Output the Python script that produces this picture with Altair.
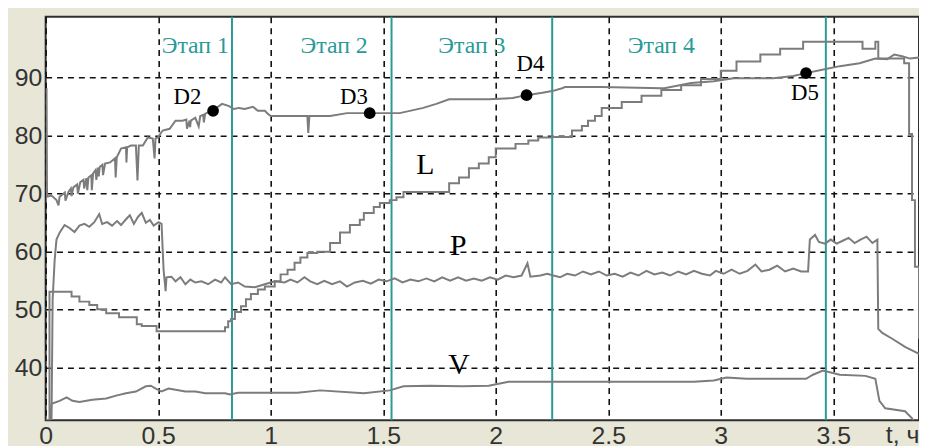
import altair as alt
import pandas as pd

# ---------------- data (time in hours, value in %) ----------------
x_ticks = [0, 0.5, 1, 1.5, 2, 2.5, 3, 3.5]
y_ticks = [40, 50, 60, 70, 80, 90]

d_t = [0.000, 0.004, 0.006, 0.026, 0.048, 0.057, 0.062, 0.070, 0.085, 0.088, 0.101, 0.112, 0.115,
       0.123, 0.140, 0.143, 0.154, 0.168, 0.171, 0.181, 0.185, 0.190, 0.203, 0.205, 0.211,
       0.222, 0.225, 0.233, 0.236, 0.240, 0.252, 0.255, 0.264, 0.286, 0.308, 0.311, 0.316,
       0.335, 0.357, 0.359, 0.362, 0.379, 0.401, 0.408, 0.414, 0.432, 0.454, 0.476, 0.484,
       0.488, 0.498, 0.520, 0.551, 0.577, 0.608, 0.625, 0.628, 0.639, 0.642, 0.645, 0.665,
       0.680, 0.687, 0.700, 0.703, 0.709, 0.740, 0.784, 0.815, 0.837, 0.859, 0.885, 0.921,
       0.943, 0.974, 0.987, 1.000, 1.163, 1.167, 1.172, 1.264, 1.339, 1.471, 1.573, 1.678,
       1.736, 1.793, 1.969, 2.075, 2.137, 2.207, 2.251, 2.295, 2.308, 2.471, 2.736, 2.749,
       2.868, 2.969, 3.057, 3.233, 3.322, 3.379, 3.467, 3.529, 3.617, 3.687, 3.740, 3.771,
       3.806, 3.841, 3.881]
d_v = [88.0, 88.0, 69.5, 69.7, 68.9, 68.0, 69.5, 69.7, 70.2, 68.8, 70.3, 70.9, 69.6,
       71.1, 71.6, 70.0, 72.0, 72.4, 70.9, 72.7, 70.6, 72.8, 73.2, 70.6, 73.5,
       74.1, 72.4, 74.5, 73.0, 74.6, 75.0, 73.2, 75.2, 75.4, 76.1, 72.8, 76.3,
       77.8, 78.0, 75.4, 78.0, 78.3, 78.3, 72.3, 78.3, 78.3, 79.7, 79.5, 76.1,
       79.5, 79.7, 80.9, 81.2, 82.6, 82.6, 82.8, 81.2, 82.6, 81.5, 82.6, 83.1,
       81.6, 83.4, 83.6, 82.3, 83.8, 84.3, 85.5, 85.1, 84.6, 84.8, 84.6, 85.0,
       84.3, 84.3, 83.8, 83.4, 83.4, 80.5, 83.4, 83.4, 83.9, 83.9, 83.9, 84.8,
       85.5, 86.3, 86.3, 86.5, 87.0, 87.4, 87.7, 88.2, 88.4, 88.4, 88.2, 88.2,
       89.1, 89.4, 89.9, 89.9, 90.3, 90.8, 91.5, 92.0, 92.5, 93.3, 93.2, 94.0,
       93.7, 93.3, 93.5]

# L: stepwise series (value holds until next time point)
l_t = [0.000, 0.017, 0.115, 0.150, 0.194, 0.229, 0.269, 0.326, 0.405, 0.427, 0.493,
       0.797, 0.811, 0.824, 0.841, 0.868, 0.890, 0.912, 0.943, 0.974, 1.018, 1.044,
       1.075, 1.106, 1.132, 1.163, 1.207, 1.264, 1.308, 1.352, 1.396, 1.414, 1.458,
       1.485, 1.529, 1.559, 1.590, 1.793, 1.837, 1.881, 1.925, 1.969, 2.000, 2.088,
       2.145, 2.189, 2.251, 2.339, 2.383, 2.410, 2.441, 2.471, 2.560, 2.648, 2.736,
       2.824, 2.912, 3.000, 3.070, 3.176, 3.264, 3.366, 3.630, 3.687, 3.700, 3.815,
       3.837, 3.850, 3.863, 3.881]
l_v = [31.0, 53.1, 52.3, 51.4, 50.8, 50.1, 49.4, 48.7, 47.5, 47.2, 46.3,
       47.0, 48.0, 48.4, 49.6, 50.6, 51.8, 52.7, 53.5, 54.0, 54.9, 56.1,
       56.9, 58.1, 59.0, 59.8, 60.0, 61.5, 63.3, 64.6, 65.5, 66.7, 67.7,
       68.4, 68.9, 69.4, 70.3, 71.8, 72.8, 74.4, 75.2, 76.3, 77.8, 78.6,
       79.2, 79.7, 79.8, 80.9, 81.7, 82.6, 83.4, 84.8, 85.8, 86.9, 87.9,
       88.7, 89.8, 91.2, 92.8, 94.0, 95.0, 96.2, 95.0, 96.2, 93.3, 92.5,
       80.3, 68.9, 57.4, 45.0]

p_t = [0.026, 0.031, 0.040, 0.048, 0.062, 0.084, 0.106, 0.128, 0.150, 0.172, 0.194,
       0.216, 0.238, 0.251, 0.273, 0.295, 0.317, 0.335, 0.357, 0.374, 0.392, 0.410,
       0.427, 0.445, 0.463, 0.480, 0.502, 0.515, 0.524, 0.533, 0.537, 0.559, 0.577,
       0.599, 0.621, 0.643, 0.665, 0.692, 0.722, 0.753, 0.780, 0.797, 0.824, 0.855,
       0.885, 0.930, 0.974, 1.018, 1.062, 1.088, 1.119, 1.150, 1.176, 1.207, 1.238,
       1.273, 1.308, 1.339, 1.374, 1.410, 1.445, 1.480, 1.515, 1.551, 1.586, 1.621,
       1.656, 1.692, 1.727, 1.762, 1.797, 1.833, 1.868, 1.903, 1.938, 1.974, 2.009,
       2.044, 2.079, 2.115, 2.141, 2.154, 2.198, 2.229, 2.256, 2.286, 2.317, 2.352,
       2.388, 2.423, 2.458, 2.493, 2.529, 2.564, 2.599, 2.634, 2.670, 2.705, 2.740,
       2.775, 2.811, 2.846, 2.881, 2.916, 2.952, 2.978, 3.013, 3.048, 3.084, 3.119,
       3.154, 3.181, 3.216, 3.251, 3.286, 3.322, 3.357, 3.388, 3.396, 3.419, 3.436,
       3.463, 3.489, 3.515, 3.542, 3.568, 3.595, 3.621, 3.648, 3.674, 3.696, 3.700,
       3.718, 3.762, 3.819, 3.881]
p_v = [31.0, 51.8, 58.6, 62.1, 63.3, 64.6, 64.1, 63.4, 64.5, 64.8, 64.3,
       65.1, 66.5, 64.8, 65.1, 64.5, 65.3, 64.6, 65.6, 66.3, 64.8, 66.0,
       66.7, 65.0, 65.5, 64.5, 65.1, 64.8, 56.9, 53.2, 55.6, 55.7, 54.9,
       55.6, 54.4, 55.2, 54.7, 54.9, 54.4, 55.2, 54.7, 55.6, 54.4, 54.7,
       54.0, 53.9, 54.4, 54.9, 54.7, 55.2, 54.7, 55.6, 54.9, 54.4, 55.0,
       54.4, 54.9, 54.0, 54.7, 55.0, 54.5, 55.2, 54.9, 55.4, 54.7, 55.2,
       54.9, 55.4, 54.9, 55.6, 55.0, 55.6, 55.0, 55.4, 55.0, 55.6, 55.2,
       55.9, 55.6, 55.9, 58.0, 55.7, 55.9, 56.2, 55.9, 55.6, 56.2, 55.9,
       56.6, 56.1, 56.6, 55.9, 56.2, 55.7, 56.4, 55.9, 56.7, 56.1, 56.4,
       55.9, 56.6, 56.1, 56.7, 56.2, 55.9, 56.7, 56.2, 56.9, 56.2, 56.7,
       57.8, 56.6, 56.9, 57.6, 56.6, 57.1, 56.6, 56.6, 62.1, 62.9, 61.7,
       61.4, 62.1, 61.4, 61.9, 62.4, 61.5, 62.1, 62.6, 61.5, 62.1, 46.7,
       46.0, 45.0, 43.6, 42.4]

v_t = [0.020, 0.026, 0.062, 0.093, 0.119, 0.150, 0.207, 0.269, 0.313, 0.357, 0.401,
       0.445, 0.467, 0.489, 0.515, 0.546, 0.577, 0.621, 0.665, 0.709, 0.797, 0.819,
       0.855, 1.119, 1.220, 1.414, 1.529, 1.590, 1.705, 1.850, 1.969, 2.057, 2.251,
       2.881, 2.969, 3.026, 3.115, 3.379, 3.410, 3.454, 3.529, 3.643, 3.687, 3.705,
       3.731, 3.819, 3.850, 3.863]
v_v = [31.0, 33.8, 34.3, 34.9, 34.3, 34.1, 34.5, 34.7, 35.2, 35.6, 35.9,
       36.8, 36.9, 36.4, 35.9, 36.4, 36.2, 35.9, 35.9, 35.6, 35.6, 35.4,
       35.7, 35.7, 36.1, 35.6, 36.1, 36.8, 36.9, 36.8, 36.9, 37.6, 37.6,
       37.6, 37.8, 38.3, 38.1, 38.1, 38.8, 39.5, 38.8, 38.6, 38.1, 34.3,
       33.0, 32.5, 31.3, 30.0]

stage_t = [0.828, 1.537, 2.251, 3.467]
stage_names = ["Этап 1", "Этап 2", "Этап 3", "Этап 4"]
stage_label_t = [0.665, 1.282, 1.894, 2.736]
stage_label_v = [95.4, 95.4, 95.4, 95.4]

pt_names = ["D2", "D3", "D4", "D5"]
pt_t = [0.744, 1.440, 2.137, 3.379]
pt_v = [84.3, 83.9, 87.0, 90.8]
pt_label_t = [0.630, 1.370, 2.154, 3.374]
pt_label_v = [86.7, 86.7, 92.3, 87.4]

curve_names = ["L", "P", "V"]
curve_label_t = [1.687, 1.833, 1.837]
curve_label_v = [75.0, 61.0, 40.5]

# ---------------- tables ----------------
def series(ts, vs, name):
    return pd.DataFrame({"t": ts, "v": vs, "s": name, "i": range(len(ts))})

lin_df = pd.concat([series(d_t, d_v, "D"), series(p_t, p_v, "P"), series(v_t, v_v, "V")])
step_df = series(l_t, l_v, "L")
stage_df = pd.DataFrame({"t": stage_t})
stage_lab_df = pd.DataFrame({"t": stage_label_t, "v": stage_label_v, "name": stage_names})
pt_df = pd.DataFrame({"t": pt_t, "v": pt_v, "name": pt_names})
pt_lab_df = pd.DataFrame({"t": pt_label_t, "v": pt_label_v, "name": pt_names})
curve_lab_df = pd.DataFrame({"t": curve_label_t, "v": curve_label_v, "name": curve_names})

# ---------------- styling ----------------
GREY = "#7c7c7c"
TEAL = "#2a9a98"
LABEL_FONT = "Liberation Sans"
SERIF = "Liberation Serif"

x_scale = alt.Scale(domain=[0, 3.881], nice=False, zero=False)
y_scale = alt.Scale(domain=[30.94, 100.5], nice=False, zero=False)

x_axis = alt.Axis(values=x_ticks, format="~g", title="t, час", grid=True,
                  gridColor="#111111", gridDash=[6, 5], gridWidth=1.6,
                  domain=False, ticks=False, labelFont=LABEL_FONT, labelFontSize=25,
                  labelColor="#333333", labelPadding=3, labelFlush=False,
                  labelOverlap=False, titleFont=LABEL_FONT, titleFontSize=25,
                  titleFontWeight="normal", titleColor="#333333", titleX=847, titleY=2,
                  titleAlign="left", titleBaseline="top", titleAngle=0)
y_axis = alt.Axis(values=y_ticks, title=None, grid=True,
                  gridColor="#111111", gridDash=[6, 5], gridWidth=1.6,
                  domain=False, ticks=False, labelFont=LABEL_FONT, labelFontSize=25,
                  labelColor="#333333", labelPadding=4, labelFlush=False,
                  labelOverlap=False)

X = alt.X("t:Q", scale=x_scale, axis=x_axis)
Y = alt.Y("v:Q", scale=y_scale, axis=y_axis)

rules = alt.Chart(stage_df).mark_rule(color=TEAL, strokeWidth=2).encode(x=X)

lines = alt.Chart(lin_df).mark_line(color=GREY, strokeWidth=2, clip=True).encode(
    x=X, y=Y, detail="s:N", order="i:Q")

steps = alt.Chart(step_df).mark_line(color=GREY, strokeWidth=2, clip=True,
                                     interpolate="step-after").encode(
    x=X, y=Y, order="i:Q")

points = alt.Chart(pt_df).mark_point(filled=True, color="black", size=140,
                                     opacity=1).encode(x=X, y=Y)

pt_text = alt.Chart(pt_lab_df).mark_text(font=SERIF, fontSize=23, color="black").encode(
    x=X, y=Y, text="name:N")

curve_text = alt.Chart(curve_lab_df).mark_text(font=SERIF, fontSize=30, color="black").encode(
    x=X, y=Y, text="name:N")

stage_text = alt.Chart(stage_lab_df).mark_text(font=SERIF, fontSize=24, color=TEAL).encode(
    x=X, y=Y, text="name:N")

chart = alt.layer(rules, lines, steps, points, pt_text, curve_text, stage_text).properties(
    width=881, height=407,
    autosize=alt.AutoSizeParams(type="none"),
    padding={"left": 38, "top": 7, "right": 0, "bottom": 24},
    background="#E8E6D6",
).configure_view(fill="white", stroke="#2f2f2f", strokeWidth=2)

chart.save("out.html", embed_options={"renderer": "svg", "actions": False})
